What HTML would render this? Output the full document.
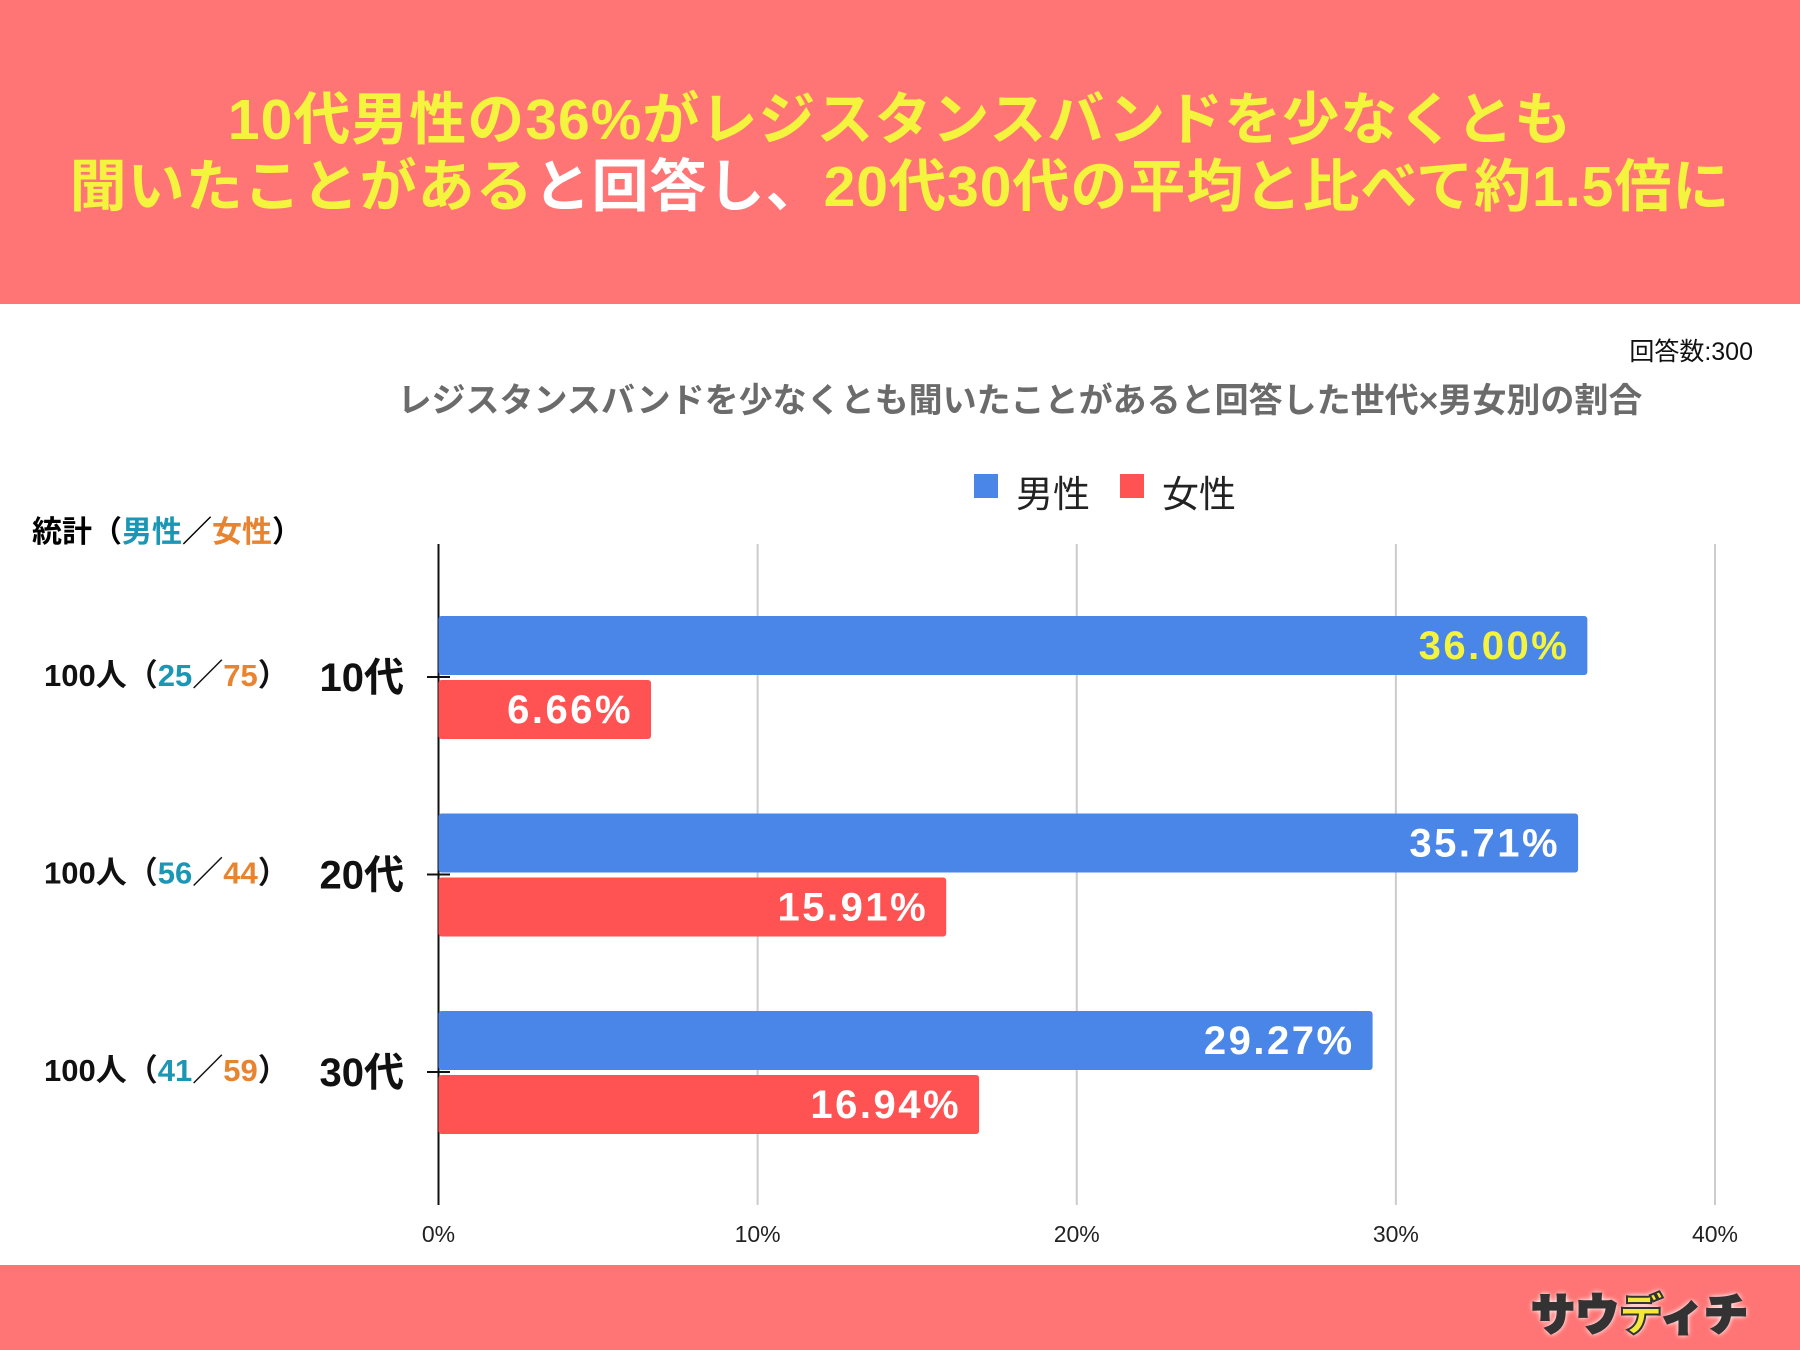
<!DOCTYPE html>
<html><head><meta charset="utf-8"><style>
body{margin:0;width:1800px;height:1350px;overflow:hidden;background:#fff;font-family:"Liberation Sans","Noto Sans CJK JP",sans-serif;position:relative}
.abs{position:absolute}
#hdr{left:0;top:0;width:1800px;height:304px;background:#ff7575}
#ftr{left:0;top:1265px;width:1800px;height:85px;background:#ff7575}
.ttl{left:0;width:1800px;text-align:center;font-size:57px;font-weight:bold;color:#f4f43e;white-space:nowrap;letter-spacing:1px}
.w{color:#fff}
</style></head><body>
<div id="hdr" class="abs">
<div class="abs ttl" style="top:74px">10代男性の36%がレジスタンスバンドを少なくとも</div>
<div class="abs ttl" style="top:141px">聞いたことがある<span class="w">と回答し、</span>20代30代の平均と比べて約1.5倍に</div>
</div>
<div class="abs" style="right:47px;top:332px;font-size:25px;color:#111">回答数:300</div>
<div class="abs" style="left:0;width:2040px;top:373px;text-align:center;font-size:34px;font-weight:bold;color:#6b6b6b">レジスタンスバンドを少なくとも聞いたことがあると回答した世代×男女別の割合</div>
<div class="abs" style="left:32px;top:507px;font-size:30px;font-weight:bold">統計（<span style="color:#1b97b5">男性</span>／<span style="color:#e8842f">女性</span>）</div>
<div class="abs" style="left:974px;top:474px;width:24px;height:24px;background:#4a86e8"></div>
<div class="abs" style="left:1016px;top:464px;font-size:37px;color:#222">男性</div>
<div class="abs" style="left:1120px;top:474px;width:24px;height:24px;background:#ff5252"></div>
<div class="abs" style="left:1162px;top:464px;font-size:37px;color:#222">女性</div>
<svg class="abs" style="left:0;top:0" width="1800" height="1350" id="chart"></svg>
<div id="ftr" class="abs">
<div class="abs" style="right:52px;top:14px;font-size:44px;font-weight:900;color:#333;-webkit-text-stroke:2px #333;text-shadow:0 0 6px #fff,0 0 6px #fff">サウ<span style="color:#f4e83a">デ</span>ィチ</div>
</div>
<script>
const categories=["10代","20代","30代"];
const maleValues=[36.00,35.71,29.27];
const femaleValues=[6.66,15.91,16.94];
const counts=[[25,75],[56,44],[41,59]];
const ticks=[0,10,20,30,40];
const svg=document.getElementById('chart');
const NS='http://www.w3.org/2000/svg';
const x0=438.5,x1=1715,xmax=40;
const X=v=>x0+(x1-x0)*v/xmax;
const gy=i=>616+i*197.5;
function mk(t,a){const e=document.createElementNS(NS,t);for(const k in a)e.setAttribute(k,a[k]);svg.appendChild(e);return e;}
ticks.forEach((t,i)=>{
 if(i>0){const g=mk('line',{x1:X(t),x2:X(t),y1:544,y2:1205,stroke:'#ccc','stroke-width':2});
 
 }
 const tx=mk('text',{x:X(t),y:1242,'font-size':23,'text-anchor':'middle',fill:'#222'});
 tx.textContent=t+'%';
 
 
});
const ax=mk('line',{x1:x0,x2:x0,y1:544,y2:1205,stroke:'#111','stroke-width':2});


categories.forEach((c,i)=>{
 const y=gy(i);
 const vals=[maleValues[i],femaleValues[i]];
 vals.forEach((v,j)=>{
  const by=y+j*64;
  const r=mk('rect',{x:x0,y:by,width:X(v)-x0,height:59,rx:3,fill:j?'#ff5252':'#4a86e8'});
  
  
  const t=mk('text',{x:X(v)-18,y:by+43,'font-size':40,'font-weight':'bold','text-anchor':'end',fill:(i==0&&j==0)?'#f4f43e':'#fff','letter-spacing':2.5});
  t.textContent=v.toFixed(2)+'%';
  
  
 });
 const tk=mk('line',{x1:427,x2:450,y1:y+61,y2:y+61,stroke:'#111','stroke-width':2});
 
 
 const cl=mk('text',{x:404,y:y+75,'font-size':40,'font-weight':'bold','text-anchor':'end',fill:'#111'});
 cl.textContent=c;
 
 
 const sl=mk('text',{x:44,y:y+70,'font-size':31,'font-weight':'bold',fill:'#111'});
 sl.innerHTML='100人（<tspan fill="#1b97b5">'+counts[i][0]+'</tspan>／<tspan fill="#e8842f">'+counts[i][1]+'</tspan>）';
 
 
});
</script>
</body></html>
